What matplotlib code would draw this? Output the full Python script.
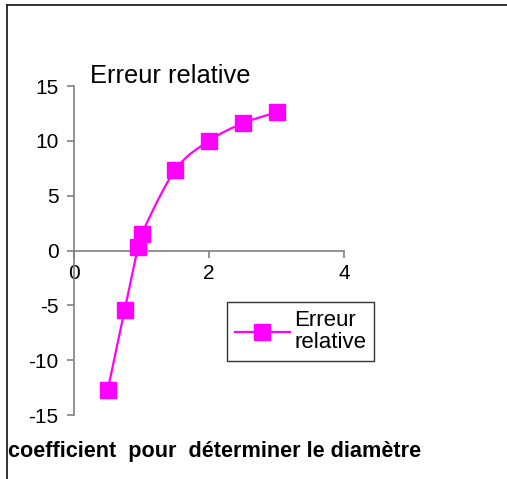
import numpy as np
import matplotlib.pyplot as plt
from matplotlib.lines import Line2D

plt.rcParams['font.family'] = ['Liberation Sans', 'DejaVu Sans']
plt.rcParams['axes.unicode_minus'] = False

# coefficient / erreur relative (%)
coef = [0.5, 0.75, 0.95, 1.0, 1.5, 2.0, 2.5, 3.0]
erreur = [-12.7, -5.4, 0.3, 1.5, 7.35, 10.0, 11.6, 12.6]

x_ticks = [0, 2, 4]
y_ticks = [-15, -10, -5, 0, 5, 10, 15]


def courbe_lissee(x, y, n=30):
    # bezier cubique entre chaque paire de points, comme le lissage d'un tableur
    x = np.asarray(x, float)
    y = np.asarray(y, float)
    px, py = [x[0]], [y[0]]
    for i in range(len(x) - 1):
        i0 = max(i - 1, 0)
        i3 = min(i + 2, len(x) - 1)
        c1x = x[i] + (x[i + 1] - x[i0]) / 6
        c1y = y[i] + (y[i + 1] - y[i0]) / 6
        c2x = x[i + 1] - (x[i3] - x[i]) / 6
        c2y = y[i + 1] - (y[i3] - y[i]) / 6
        t = np.linspace(0, 1, n)[1:]
        a, b, c, d = (1 - t) ** 3, 3 * t * (1 - t) ** 2, 3 * t ** 2 * (1 - t), t ** 3
        px.extend(a * x[i] + b * c1x + c * c2x + d * x[i + 1])
        py.extend(a * y[i] + b * c1y + c * c2y + d * y[i + 1])
    return np.array(px), np.array(py)


fig = plt.figure(figsize=(5.07, 4.79), dpi=100)
ax = fig.add_axes([0.146, 0.1336, 0.5325, 0.6868])

sx, sy = courbe_lissee(coef, erreur)
ax.plot(sx, sy, color='#FF00FF', lw=1.6, zorder=3)
ax.plot(coef, erreur, ls='none', marker='s', ms=11, color='#FF00FF', zorder=4)

ax.set_xlim(0, 4)
ax.set_ylim(-15, 15)
ax.set_xticks(x_ticks)
ax.set_yticks(y_ticks)

ax.spines['left'].set_position(('data', 0))
ax.spines['bottom'].set_position(('data', 0))
ax.spines['top'].set_visible(False)
ax.spines['right'].set_visible(False)
for s in ('left', 'bottom'):
    ax.spines[s].set_color('#808080')
    ax.spines[s].set_linewidth(1.2)
ax.tick_params(axis='both', colors='#808080', labelcolor='black',
               labelsize=15, length=5, width=1.2, direction='out')
ax.tick_params(axis='x', pad=5)
ax.tick_params(axis='y', pad=6)
ax.patch.set_alpha(0)

# legende (une seule entree, texte sur deux lignes)
handle = Line2D([], [], color='#FF00FF', lw=1.6, marker='s', ms=11)
leg = ax.legend([handle], ['Erreur\nrelative'], loc='upper left',
                bbox_to_anchor=(0.566, 0.342), fontsize=16, frameon=True,
                fancybox=False, edgecolor='black', handlelength=2.5,
                borderpad=0.35, handletextpad=0.2, borderaxespad=0)
leg.get_frame().set_linewidth(1.0)
for t in leg.get_texts():
    t.set_multialignment('left')
    t.set_linespacing(1.05)

fig.text(90 / 507, 1 - 76 / 479, 'Erreur relative', fontsize=18.4,
         ha='left', va='center')
fig.text(8 / 507, 1 - 452 / 479, 'coefficient  pour  déterminer le diamètre',
         fontsize=15.6, fontweight='bold', ha='left', va='center')

# cadre du graphique (haut et gauche)
fig.add_artist(Line2D([7 / 507, 7 / 507], [0, 1 - 5 / 479],
                      transform=fig.transFigure, color='#222222', lw=1.3))
fig.add_artist(Line2D([7 / 507, 1], [1 - 5 / 479, 1 - 5 / 479],
                      transform=fig.transFigure, color='#222222', lw=1.3))

fig.savefig('out.png', dpi=100)
